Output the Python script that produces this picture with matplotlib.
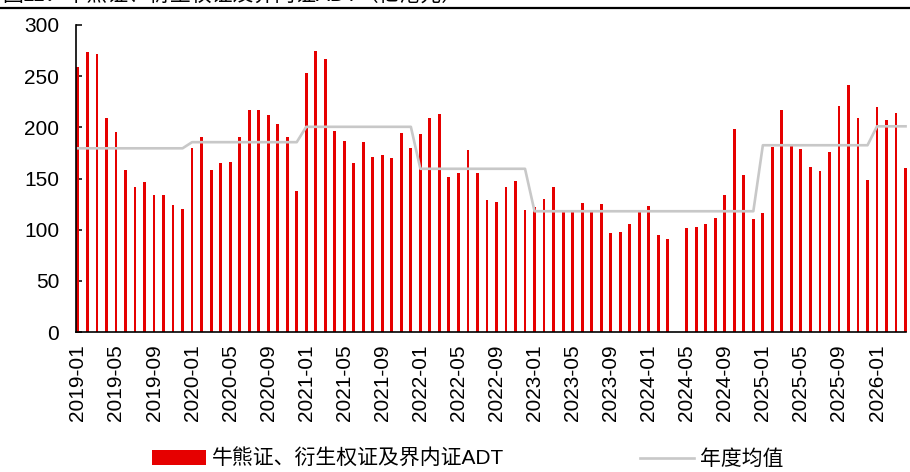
import numpy as np
import pandas as pd
import matplotlib
matplotlib.use('Agg')
import matplotlib.pyplot as plt
from matplotlib.lines import Line2D

plt.rcParams['font.family'] = ['Liberation Sans', 'Noto Sans CJK SC', 'DejaVu Sans']

# monthly ADT (HK$ 100m), 2019-01 .. 2026-04, 2024-04 missing
months = [p.strftime('%Y-%m') for p in pd.period_range('2019-01', '2026-04', freq='M')]
adt = [
    259, 274, 272, 209, 195, 158, 142, 147, 134, 134, 124, 120,   # 2019
    180, 191, 158, 165, 166, 191, 217, 217, 212, 203, 191, 138,   # 2020
    253, 275, 267, 196, 187, 165, 186, 171, 173, 170, 194, 180,   # 2021
    193, 209, 213, 151, 155, 178, 155, 129, 127, 142, 148, 119,   # 2022
    122, 130, 142, 117, 117, 126, 118, 125, 97, 98, 106, 117,     # 2023
    123, 95, 91, None, 102, 103, 106, 111, 134, 198, 153, 110,    # 2024
    116, 181, 217, 184, 179, 161, 157, 176, 221, 241, 209, 149,   # 2025
    220, 207, 214, 160,                                           # 2026
]
years = ['2019', '2020', '2021', '2022', '2023', '2024', '2025', '2026']
year_avg = [179.5, 185.5, 200.5, 159.5, 118, 118, 182.5, 201]

label_bar = '牛熊证、衍生权证及界内证ADT'
label_line = '年度均值'
title = '图11：牛熊证、衍生权证及界内证ADT（亿港元）'

avg_map = dict(zip(years, year_avg))
avg_line = [avg_map[m[:4]] for m in months]
vals = np.array([np.nan if v is None else v for v in adt], dtype=float)
x = np.arange(len(months))

fig = plt.figure(figsize=(9.1, 4.72), dpi=100)
ax = fig.add_axes([76 / 910, 1 - 332 / 472, (906.5 - 76) / 910, (332 - 25) / 472])

bars = ax.bar(x, vals, width=0.3, color='#e60000', zorder=2)
line, = ax.plot(x, avg_line, color='#c8c8c8', lw=1.9, zorder=3)

ax.set_xlim(-0.2, len(months) - 0.9)
ax.set_ylim(0, 300)
ax.set_yticks(range(0, 301, 50))
ax.set_xticks(x[::4])
ax.set_xticklabels(months[::4], rotation=90)

for s in ['top', 'right']:
    ax.spines[s].set_visible(False)
for s in ['left', 'bottom']:
    ax.spines[s].set_linewidth(1.2)
    ax.spines[s].set_zorder(4)
ax.tick_params(axis='both', direction='in', length=4, width=1.1, labelsize=15)
ax.tick_params(axis='y', pad=12)
ax.tick_params(axis='x', pad=9)

# title partly cut at the top, with rule below it
fig.text(2 / 910, 1 - 2 / 472, title, fontsize=15, va='baseline', ha='left')
fig.add_artist(Line2D([0, 1], [1 - 7.5 / 472, 1 - 7.5 / 472], color='black', lw=1.6,
                      transform=fig.transFigure))

fig.legend([bars, line], [label_bar, label_line], loc='center',
           bbox_to_anchor=(0.514, 0.028), ncol=2, frameon=False,
           fontsize=15, handlelength=2.6, handletextpad=0.3, columnspacing=6.5,
           borderpad=0)

fig.savefig('out.png', dpi=100)
